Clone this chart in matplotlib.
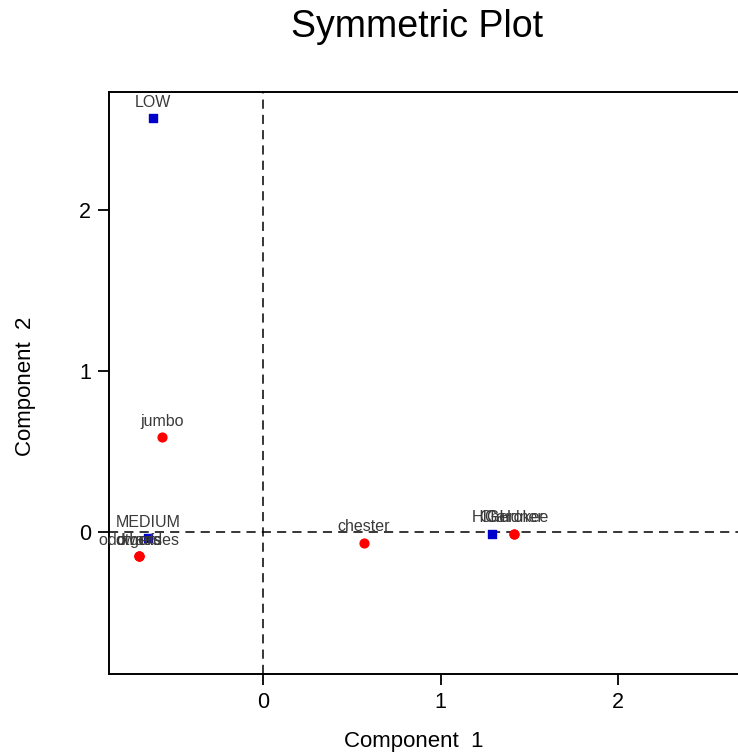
import matplotlib
matplotlib.use("Agg")
import matplotlib.pyplot as plt

plt.rcParams['font.family'] = ['Liberation Sans', 'DejaVu Sans']

# row profiles (red) and column profiles (blue) on the first two components
row_names = ["jumbo", "chester", "others", "dwarfs", "odd grades", "Cherokee", "Gardner"]
row_x = [-0.569, 0.569, -0.70, -0.70, -0.70, 1.414, 1.414]
row_y = [0.59, -0.068, -0.15, -0.15, -0.15, -0.012, -0.012]

col_names = ["LOW", "MEDIUM", "HIGH"]
col_x = [-0.62, -0.648, 1.29]
col_y = [2.57, -0.04, -0.012]

xticks = [0, 1, 2]
yticks = [0, 1, 2]

fig = plt.figure(figsize=(7.38, 7.56), dpi=100)
ax = fig.add_axes([109 / 738, 82 / 756, 651 / 738, 582 / 756])
ax.set_xlim(-0.868, 2.80)
ax.set_ylim(-0.882, 2.733)

ax.axhline(0, color='black', lw=1.1, ls=(0, (6, 4)), zorder=1)
ax.axvline(0, color='black', lw=1.1, ls=(0, (6, 4)), zorder=1)

ax.scatter(row_x, row_y, marker='o', s=40, color='#ff0000', zorder=3, clip_on=False)
ax.scatter(col_x, col_y, marker='s', s=34, color='#0000cc', zorder=3, clip_on=False)

for name, x, y in zip(row_names, row_x, row_y):
    ax.annotate(name, (x, y), xytext=(0, 11.5), textcoords='offset points',
                ha='center', va='center', fontsize=11.5, color='#3a3a3a',
                annotation_clip=False, zorder=4)
for name, x, y in zip(col_names, col_x, col_y):
    ax.annotate(name, (x, y), xytext=(0, 11.5), textcoords='offset points',
                ha='center', va='center', fontsize=11.5, color='#3a3a3a',
                annotation_clip=False, zorder=4)

ax.set_xticks(xticks)
ax.set_yticks(yticks)
ax.tick_params(direction='out', length=8, width=1.3, labelsize=15.5, pad=5)
for s in ax.spines.values():
    s.set_linewidth(1.4)

fig.text(417 / 738, 1 - 27 / 756, "Symmetric Plot", ha='center', va='center', fontsize=27)
fig.text(414 / 738, 1 - 742 / 756, "Component  1", ha='center', va='center', fontsize=16)
fig.text(26 / 738, 1 - 386 / 756, "Component  2", ha='center', va='center', fontsize=16,
         rotation=90)

fig.savefig("out.png", dpi=100)
